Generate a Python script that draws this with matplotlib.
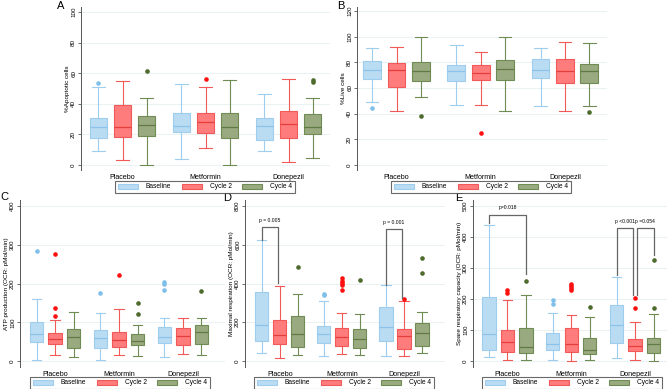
import matplotlib
matplotlib.use("Agg")
import matplotlib.pyplot as plt
from matplotlib.patches import Patch

plt.rcParams['font.family'] = ['Liberation Sans', 'DejaVu Sans']

groups = ["Placebo", "Metformin", "Donepezil"]
series = ["Baseline", "Cycle 2", "Cycle 4"]

# order in every list: Placebo (B, C2, C4), Metformin (B, C2, C4), Donepezil (B, C2, C4)
# A - %Apoptotic cells
apo_lo = [8.9, 3, 0, 3.9, 11, 0, 8.9, 2, 4.6]
apo_q1 = [17.6, 18.2, 18.9, 21.3, 20.6, 17.4, 16.3, 17.4, 20]
apo_med = [25, 25, 26, 25.6, 28, 25, 25.6, 26.7, 25]
apo_q3 = [31, 39, 32, 33.8, 33.8, 33.8, 31, 35.1, 33]
apo_hi = [50.8, 54.9, 44, 53.1, 51.2, 55.3, 46.2, 56, 44]
apo_out = [[53.4], [], [61.4], [], [56.2], [], [], [], [55.3, 54]]

# B - %Live cells
live_lo = [49, 42, 52.9, 46.7, 46.7, 42, 45.9, 42, 45.9]
live_q1 = [66.9, 60.9, 65.3, 65, 65.8, 66.1, 67.4, 64, 63.8]
live_med = [73.9, 73.9, 73.1, 73.1, 71.8, 74.6, 73.9, 73.1, 73.1]
live_q3 = [81.1, 79.6, 80.1, 77.8, 78, 81.6, 82.4, 82.4, 78.5]
live_hi = [90.7, 91.8, 99.5, 93.8, 87.9, 99.5, 90.7, 95.6, 94.9]
live_out = [[44], [], [38.1], [], [24.9], [], [], [], [41]]

# C - ATP production
atp_lo = [3, 15.5, 12, 3, 17, 14.6, 12, 19.7, 17]
atp_q1 = [50, 45.5, 34.3, 33.5, 37, 42, 48, 41, 44.6]
atp_med = [71, 58, 61, 60, 54, 51.5, 62.7, 64.4, 76.4]
atp_q3 = [102, 73, 82.4, 81.5, 76.4, 69.5, 89, 86.7, 94.4]
atp_hi = [160.5, 107, 127, 123, 135, 92, 110, 112.4, 111.6]
atp_out = [[284], [275.5, 137, 117], [], [176], [221.5], [150, 121],
           [204, 199, 182], [], [181]]

# D - Maximal respiration
max_lo = [41, 14, 33, 26, 36, 33, 26, 26, 39]
max_q1 = [103, 89, 72, 91, 77, 69, 103, 63, 79]
max_med = [187, 134, 137, 139, 122, 113, 173, 129, 144]
max_q3 = [358, 211, 231, 180, 168, 166, 278, 163, 197]
max_hi = [622, 386, 345, 310, 247, 240, 391, 312, 255]
max_out = [[], [], [487], [348, 339], [430, 415, 403, 391, 369], [420],
           [], [319], [530, 456]]

# E - Spare respiratory capacity
spare_lo = [12, 3, 3, 3, 1, 3, 10.7, 3, 0]
spare_q1 = [34, 28, 25.7, 34, 28, 21.4, 57, 33, 24.7]
spare_med = [86, 60, 46, 54.7, 54.7, 35, 116, 47, 54.7]
spare_q3 = [206, 98.6, 105, 90, 105, 73, 182, 70, 73]
spare_hi = [439, 195, 214, 154, 149, 141.5, 271, 126.5, 152]
spare_out = [[], [230, 217.6], [259], [198, 184], [249, 242, 236, 230], [175],
             [], [202.6, 171.5], [326, 171.5]]

# significance brackets: (group, box from, box to, top, left foot, right foot, text)
max_sig = [(0, 0, 1, 693, 625, 404, "p = 0.005"),
           (2, 0, 1, 679, 394, 326, "p = 0.001")]
spare_sig = [(0, 0, 2, 472, 445, 279, "p=0.018"),
             (2, 0, 1, 429, 276, 214, "p <0.001"),
             (2, 1, 2, 429, 214, 341, "p =0.054")]

fills = ["#b9dcf3", "#ff7c7c", "#9aaa80"]
edges = ["#9fcdee", "#f25a5a", "#708c55"]
meds = ["#8ec2e8", "#e53c3c", "#5f7a45"]
dots = ["#7fc0ea", "#ff1010", "#4d6b2c"]

OFF = 0.29
W = 0.21
FS = 4.8


def draw(ax, lo, q1, med, q3, hi, out, ylim, yticks, ylabel, xlim):
    for t in yticks:
        ax.axhline(t, color="#e6eff0", lw=0.6, zorder=0)
    for j in range(3):
        stats = []
        pos = []
        for g in range(3):
            i = g * 3 + j
            stats.append(dict(whislo=lo[i], q1=q1[i], med=med[i], q3=q3[i],
                              whishi=hi[i], fliers=out[i]))
            pos.append(g + (j - 1) * OFF)
        ax.bxp(stats, positions=pos, widths=W, patch_artist=True,
               capwidths=W * 0.7,
               boxprops=dict(facecolor=fills[j], edgecolor=edges[j], lw=0.8),
               medianprops=dict(color=meds[j], lw=0.9),
               whiskerprops=dict(color=edges[j], lw=0.8),
               capprops=dict(color=edges[j], lw=0.8),
               flierprops=dict(marker="o", markersize=2.3, markerfacecolor=dots[j],
                               markeredgecolor=dots[j]))
    ax.set_xlim(*xlim)
    ax.set_ylim(*ylim)
    ax.set_yticks(yticks)
    ax.set_yticklabels([str(t) for t in yticks], rotation=90, va="center",
                       fontsize=FS - 0.3)
    ax.set_xticks(range(3))
    ax.set_xticklabels(groups, fontsize=FS + 0.3)
    ax.tick_params(axis="x", length=0, pad=3)
    ax.tick_params(axis="y", length=2.5, width=0.6, color="#555555", pad=1)
    for s in ["top", "right", "bottom"]:
        ax.spines[s].set_visible(False)
    ax.spines["left"].set_color("#555555")
    ax.spines["left"].set_linewidth(0.7)
    ax.set_ylabel(ylabel, fontsize=FS - 0.2, labelpad=1)
    ax.set_facecolor("white")


def brackets(ax, sig):
    for g, a, b, top, ya, yb, txt in sig:
        xa = g + (a - 1) * OFF
        xb = g + (b - 1) * OFF
        if a == 1:
            xa += 0.03
        if b == 1:
            xb -= 0.03
        ax.plot([xa, xa, xb, xb], [ya, top, top, yb], color="#666666", lw=0.9,
                zorder=5)
        ax.text((xa + xb) / 2, top + (ax.get_ylim()[1] - ax.get_ylim()[0]) * 0.025,
                txt, ha="center", va="bottom", fontsize=3.6)


fig = plt.figure(figsize=(6.67, 3.89), dpi=100)

axA = fig.add_axes([81 / 667, 1 - 170 / 389, 249 / 667, 163 / 389])
draw(axA, apo_lo, apo_q1, apo_med, apo_q3, apo_hi, apo_out, (-3.3, 103.3),
     [0, 20, 40, 60, 80, 100], "%Apoptotic cells", (-0.5, 2.5))

axB = fig.add_axes([357 / 667, 1 - 170 / 389, 250 / 667, 163 / 389])
draw(axB, live_lo, live_q1, live_med, live_q3, live_hi, live_out, (-3.9, 123),
     [0, 20, 40, 60, 80, 100, 120], "%Live cells", (-0.47, 2.5))

axC = fig.add_axes([20 / 667, 1 - 367 / 389, 205 / 667, 167 / 389])
draw(axC, atp_lo, atp_q1, atp_med, atp_q3, atp_hi, atp_out, (-15, 415),
     [0, 100, 200, 300, 400], "ATP production (OCR: pMol/min)", (-0.55, 2.66))

axD = fig.add_axes([245 / 667, 1 - 367 / 389, 200 / 667, 167 / 389])
draw(axD, max_lo, max_q1, max_med, max_q3, max_hi, max_out, (-31, 831),
     [0, 200, 400, 600, 800], "Maximal respiration (OCR: pMol/min)", (-0.56, 2.66))
brackets(axD, max_sig)

axE = fig.add_axes([473 / 667, 1 - 367 / 389, 194 / 667, 167 / 389])
draw(axE, spare_lo, spare_q1, spare_med, spare_q3, spare_hi, spare_out, (-19.4, 519),
     [0, 100, 200, 300, 400, 500], "Spare respiratory capacity (OCR: pMol/min)",
     (-0.54, 2.5))
brackets(axE, spare_sig)

handles = [Patch(facecolor=fills[j], edgecolor=edges[j], lw=0.8) for j in range(3)]
for cx, cy in [(205, 187), (481, 187), (120, 383), (344, 383), (572, 383)]:
    leg = fig.legend(handles, series, loc="center", bbox_to_anchor=(cx / 667, 1 - cy / 389),
                     ncol=3, fontsize=FS, frameon=True, fancybox=False,
                     handlelength=3.0, handleheight=0.8, columnspacing=1.6,
                     handletextpad=1.2, borderpad=0.35, borderaxespad=0)
    leg.get_frame().set_edgecolor("#444444")
    leg.get_frame().set_linewidth(0.8)

for lab, x, y in [("A", 61, 6), ("B", 341, 6), ("C", 4, 197), ("D", 227, 198), ("E", 459, 198)]:
    fig.text(x / 667, 1 - y / 389, lab, fontsize=8, ha="center", va="center")

fig.savefig("out.png", dpi=100)
